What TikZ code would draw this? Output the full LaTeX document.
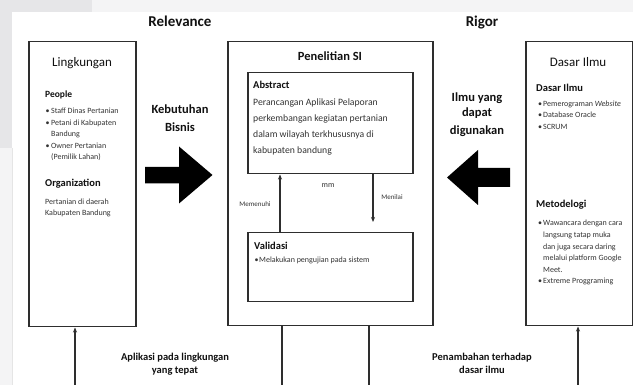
\documentclass[tikz,border=0pt]{standalone}
\usepackage{fontspec}
\setmainfont{Carlito}
\usetikzlibrary{arrows.meta}
\definecolor{bggray}{HTML}{E6E6E8}
\definecolor{bglight}{HTML}{F4F4F5}
\definecolor{edge}{HTML}{2E2E2E}
\definecolor{txtc}{HTML}{111111}
\definecolor{bodyc}{HTML}{333333}
\tikzset{
  box/.style={draw=edge, line width=1.5pt},
  conn/.style={draw=edge, line width=1.2pt},
  arr/.style={conn, -{Stealth[length=5pt,width=4pt]}},
  blockarrow/.style={fill=black, draw=none},
  t/.style={inner sep=0pt, anchor=base, text=txtc},
  tl/.style={inner sep=0pt, anchor=base west, text=txtc},
  bigtitle/.style={t, font=\fontsize{15}{18}\bfseries\selectfont},
  boxtitle/.style={t, font=\fontsize{13}{16}\selectfont},
  boxtitleb/.style={t, font=\fontsize{12.5}{15}\bfseries\selectfont},
  midlabel/.style={t, font=\fontsize{12.5}{15}\bfseries\selectfont},
  subhead/.style={tl, font=\fontsize{10.5}{12}\bfseries\selectfont},
  subheadsm/.style={tl, font=\fontsize{9.5}{12}\bfseries\selectfont},
  small/.style={tl, font=\fontsize{8}{10}\selectfont, text=bodyc},
  abs/.style={tl, font=\fontsize{9.7}{12}\selectfont, text=bodyc},
  tiny/.style={t, font=\fontsize{7}{9}\selectfont, text=bodyc},
  botlabel/.style={t, font=\fontsize{10.5}{12}\bfseries\selectfont},
}
\begin{document}
\begin{tikzpicture}[x=1pt,y=-1pt]
% background
\useasboundingbox (0,0) rectangle (633,385);
\fill[white] (0,0) rectangle (633,385);
\fill[bglight] (0,0) rectangle (633,12);
\fill[bggray] (0,0) rectangle (92,12);
\fill[bglight] (0,12) rectangle (12,385);
\fill[bggray] (0,12) rectangle (12,148);
\draw[color=black!10, line width=0.6pt] (12,148) -- (12,385);

% headings
\node[bigtitle] (relevance) at (180,26.5) {Relevance};
\node[bigtitle] (rigor) at (482,26.5) {Rigor};

% ---------- Lingkungan ----------
\node[box, minimum width=107pt, minimum height=285pt, anchor=north west, inner sep=0pt] (ling) at (28,41) {};
\node[boxtitle] (lingt) at (82,66.5) {Lingkungan};
\node[subheadsm] (people) at (45,97.5) {People};
\foreach \y/\b/\s [count=\i] in {114/1/Staff Dinas Pertanian, 125.5/1/Petani di Kabupaten, 137/0/Bandung, 148.5/1/Owner Pertanian, 160/0/(Pemilik Lahan)}{
  \node[small] (lp\i) at (51,\y) {\s};
  \ifnum\b=1 \node[small] (lb\i) at (45.5,\y) {•};\fi
}
\node[subhead] (org) at (45,187) {Organization};
\node[small] (org1) at (45,204.5) {Pertanian di daerah};
\node[small] (org2) at (45,216) {Kabupaten Bandung};

% ---------- Penelitian SI ----------
\node[box, minimum width=205pt, minimum height=284pt, anchor=north west, inner sep=0pt] (pen) at (227,41) {};
\node[boxtitleb] (pent) at (330,61) {Penelitian SI};
\node[box, minimum width=165pt, minimum height=101pt, anchor=north west, inner sep=0pt] (abs) at (247,72) {};
\node[subhead] (abst) at (253,89) {Abstract};
\foreach \y/\s [count=\i] in {105.5/Perancangan Aplikasi Pelaporan, 122/perkembangan kegiatan pertanian, 138/dalam wilayah terkhususnya di, 153.5/kabupaten bandung}{
  \node[abs] (ab\i) at (253,\y) {\s};
}
\node[box, minimum width=165pt, minimum height=69pt, anchor=north west, inner sep=0pt] (val) at (247,232) {};
\node[subhead] (valt) at (254,250) {Validasi};
\node[small] (vb) at (254.5,263) {•};
\node[small] (v1) at (259,263) {Melakukan pengujian pada sistem};

\draw[arr] (val.north -| 280,0) -- (abs.south -| 280,0);
\coordinate (menend) at (373,222);
\draw[arr] (abs.south -| 373,0) -- (menend);
\node[tiny] (memenuhi) at (255,206.5) {Memenuhi};
\node[tiny] (menilai) at (392,199.5) {Menilai};
\node[t, font=\fontsize{8}{10}\selectfont, text=bodyc] (mm) at (328,187.5) {mm};

% ---------- Dasar Ilmu ----------
\node[box, minimum width=107pt, minimum height=284pt, anchor=north west, inner sep=0pt] (dasar) at (525,41) {};
\node[boxtitle] (dasart) at (578,66.5) {Dasar Ilmu};
\node[subhead] (dasarh) at (536,91.5) {Dasar Ilmu};
\foreach \y/\s [count=\i] in {106.5/{Pemerograman \textit{Website}}, 118/Database Oracle, 129.5/SCRUM}{
  \node[small] (db\i) at (538,\y) {•};
  \node[small] (dl\i) at (543,\y) {\s};
}
\node[subhead] (meto) at (536,207.5) {Metodelogi};
\foreach \y/\b/\s [count=\i] in {225.5/1/Wawancara dengan cara, 237.5/0/langsung tatap muka, 249.5/0/dan juga secara daring, 260.5/0/melalui platform Google, 272.5/0/Meet., 283.5/1/Extreme Proggraming}{
  \node[small] (ml\i) at (543,\y) {\s};
  \ifnum\b=1 \node[small] (mb\i) at (538,\y) {•};\fi
}

% ---------- block arrows ----------
\fill[blockarrow] (145,167) -- (179,167) -- (179,146.5) -- (212.5,175) -- (179,203.5) -- (179,183.5) -- (145,183.5) -- cycle;
\fill[blockarrow] (510,168) -- (478,168) -- (478,150) -- (447,177.5) -- (478,205) -- (478,187) -- (510,187) -- cycle;
\node[midlabel] (keb1) at (180,114) {Kebutuhan};
\node[midlabel] (keb2) at (180,132) {Bisnis};
\node[midlabel] (ilmu1) at (477,101.5) {Ilmu yang};
\node[midlabel] (ilmu2) at (477,117) {dapat};
\node[midlabel] (ilmu3) at (477,134.5) {digunakan};

% ---------- bottom connectors ----------
\coordinate (lb) at (75,385);
\coordinate (db) at (578,385);
\coordinate (pb1) at (282,385);
\coordinate (pb2) at (369,385);
\draw[arr] (lb) -- (ling.south -| lb);
\draw[arr] (db) -- (dasar.south -| db);
\draw[conn] (pen.south -| pb1) -- (pb1);
\draw[conn] (pen.south -| pb2) -- (pb2);
\node[botlabel] (ap1) at (175,360) {Aplikasi pada lingkungan};
\node[botlabel] (ap2) at (175,373.5) {yang tepat};
\node[botlabel] (pn1) at (482,360) {Penambahan terhadap};
\node[botlabel] (pn2) at (482,373.5) {dasar ilmu};
\end{tikzpicture}
\end{document}
